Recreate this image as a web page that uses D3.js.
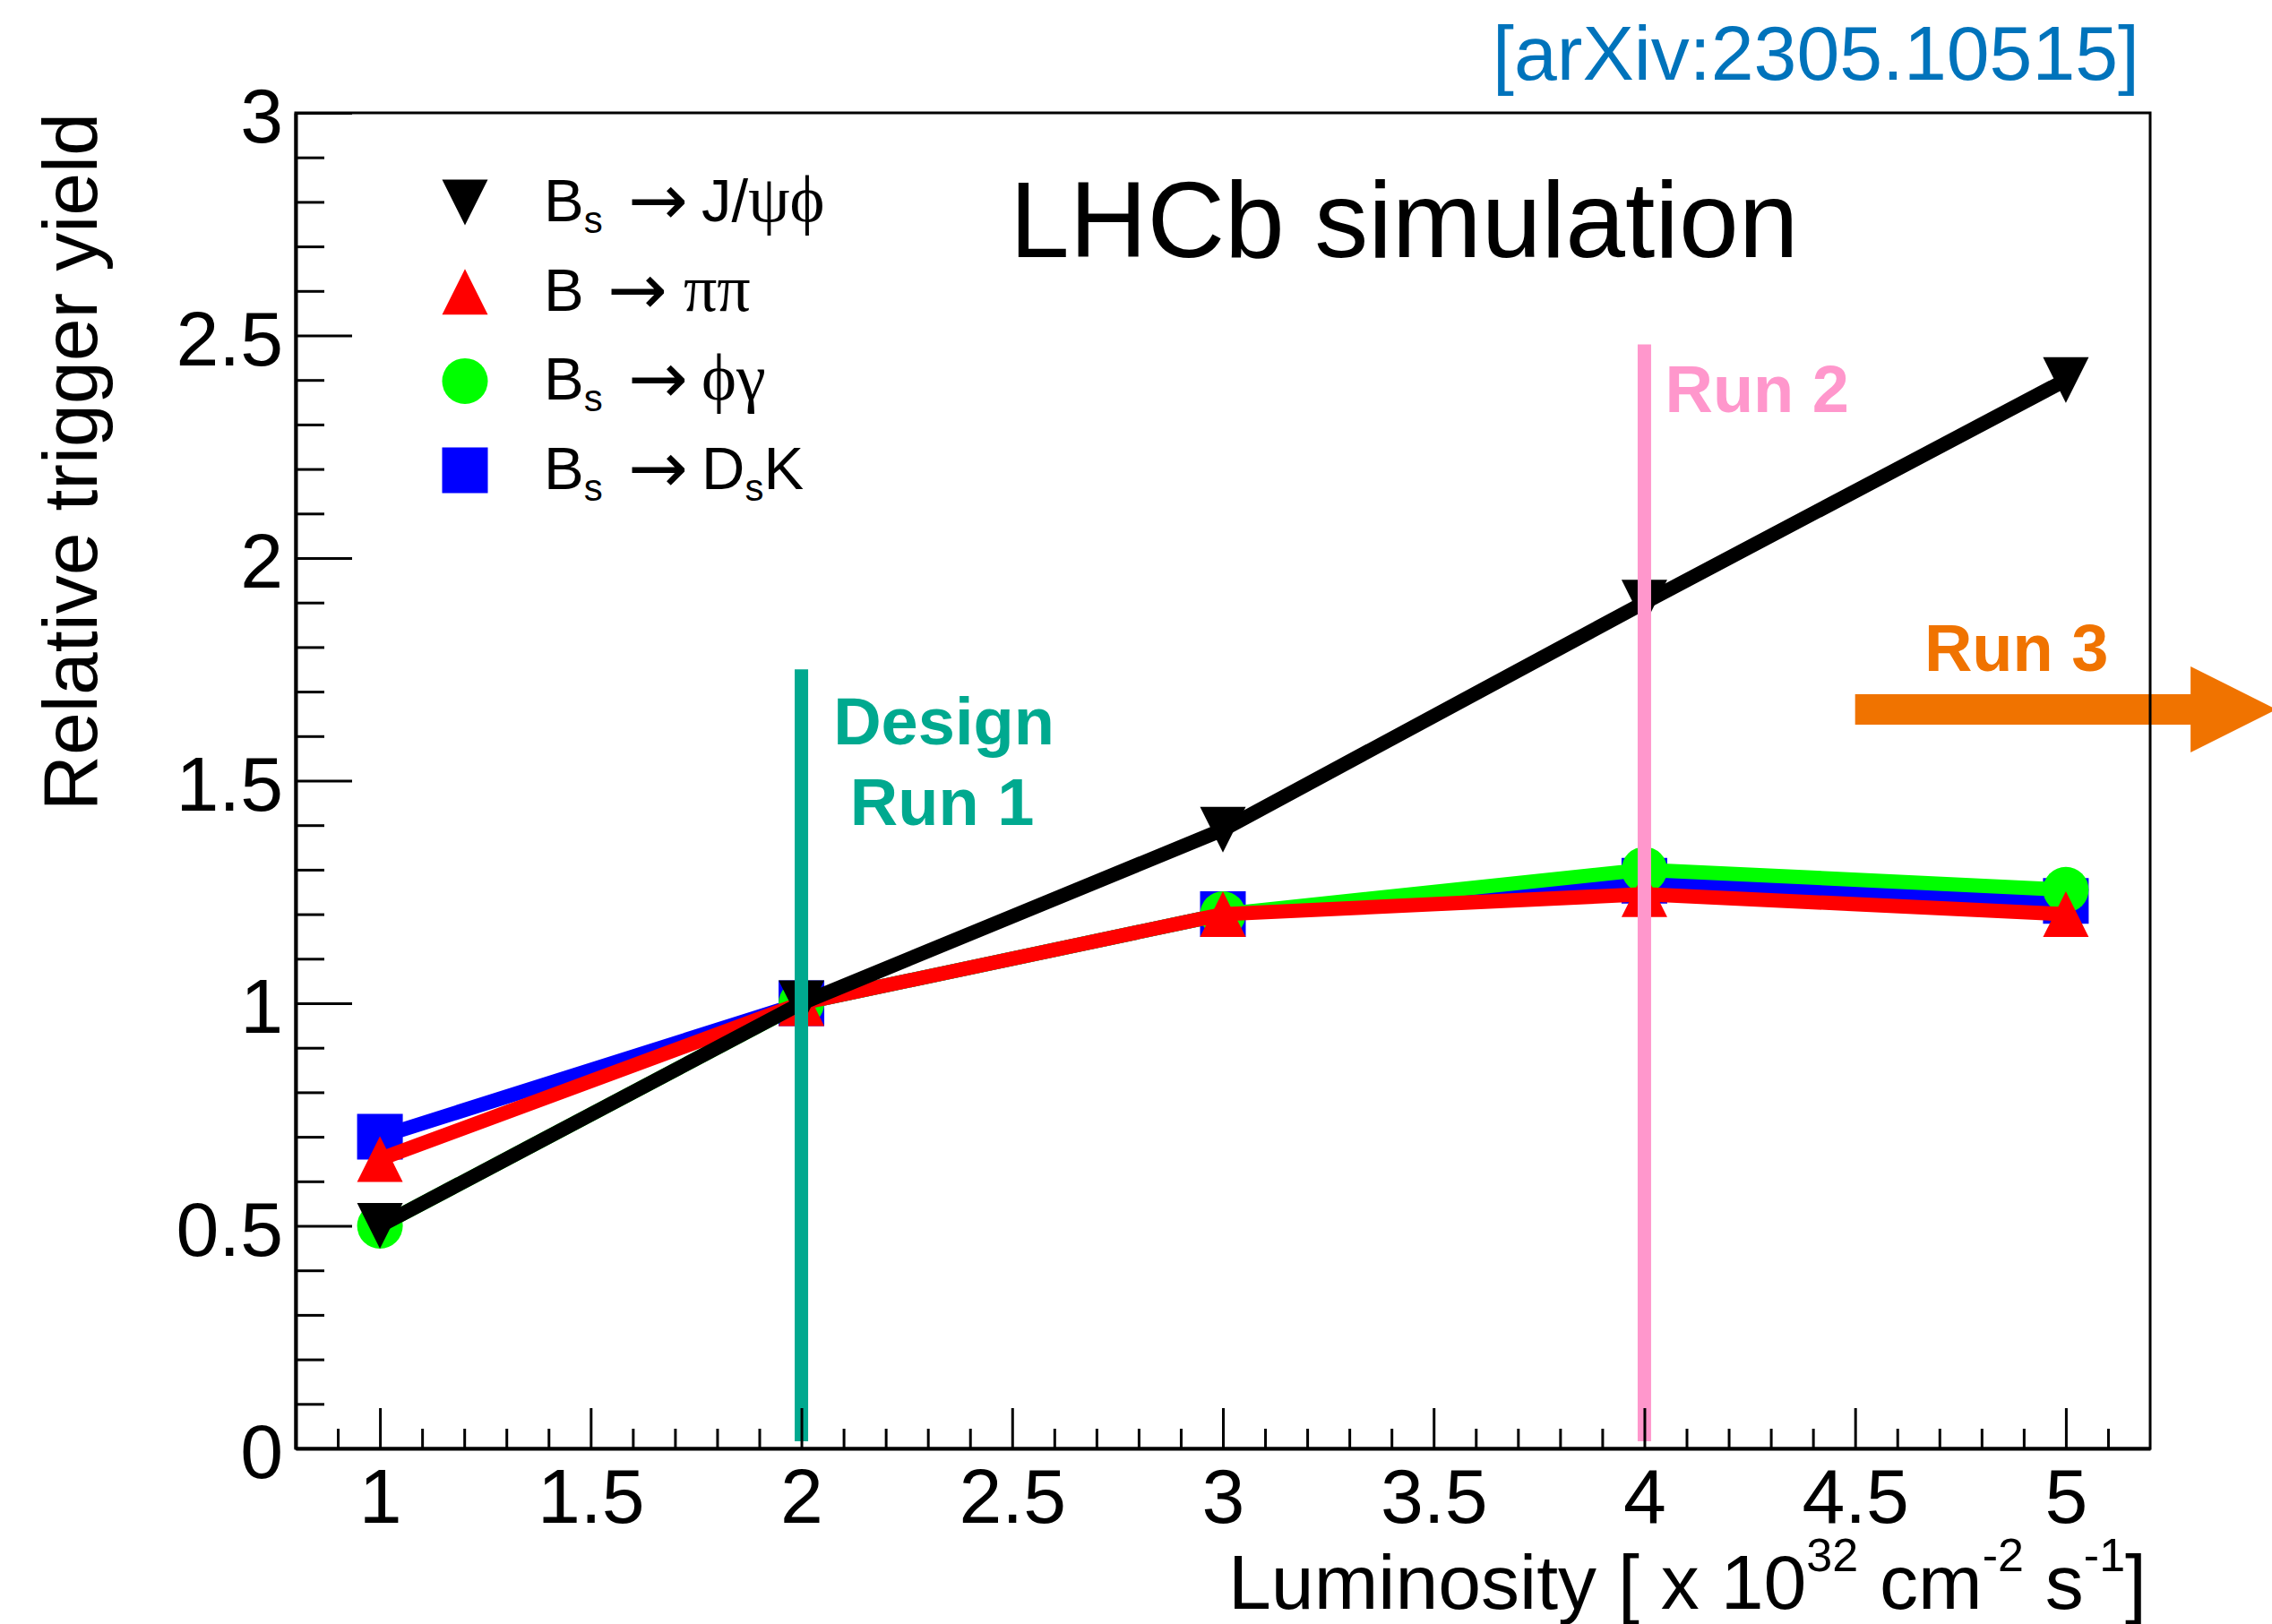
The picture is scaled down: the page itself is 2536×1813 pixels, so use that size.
<!DOCTYPE html>
<html>
<head>
<meta charset="utf-8">
<script src="https://cdn.jsdelivr.net/npm/d3@7"></script>
<style>
  body { margin: 0; background: #fff; }
  svg { display: block; font-family: "Liberation Sans", Arial, Helvetica, sans-serif; }
</style>
</head>
<body>
<svg id="chart" width="2536" height="1813"></svg>
<script>
// values
const luminosity = [1, 2, 3, 4, 5];
const jpsiPhi  = [0.5, 1.0, 1.39, 1.9, 2.4];
const pipi     = [0.65, 1.0, 1.2, 1.245, 1.2];
const phiGamma = [0.5, 1.0, 1.2, 1.3, 1.255];
const dsK      = [0.7, 1.0, 1.2, 1.275, 1.23];

const xTicks = [1, 1.5, 2, 2.5, 3, 3.5, 4, 4.5, 5];
const yTicks = [0, 0.5, 1, 1.5, 2, 2.5, 3];

// vertical run markers and the run 3 arrow (data units)
const runLines = [
  { x: 2, top: 1.75, label: ['Design', 'Run 1'], color: '#00a98f' },
  { x: 4, top: 2.48, label: ['Run 2'], color: '#ff97cc' }
];
const run3 = { from: 4.5, to: 5.5, y: 1.66, label: 'Run 3', color: '#f07300' };

// drawing order follows the original (blue under, black on top)
const series = [
  { id: 'dsK', values: dsK, color: '#0000ff', marker: 'square' },
  { id: 'phiGamma', values: phiGamma, color: '#00ff00', marker: 'circle' },
  { id: 'pipi', values: pipi, color: '#ff0000', marker: 'triangleUp' },
  { id: 'jpsiPhi', values: jpsiPhi, color: '#000000', marker: 'triangleDown' }
];

const legend = [
  { id: 'jpsiPhi', head: 'B', sub: 's', tail: [{ t: 'J/' }, { t: 'ψϕ', serif: true }] },
  { id: 'pipi', head: 'B', sub: null, tail: [{ t: 'ππ', serif: true }] },
  { id: 'phiGamma', head: 'B', sub: 's', tail: [{ t: 'ϕγ', serif: true }] },
  { id: 'dsK', head: 'B', sub: 's', tail: [{ t: 'D' }, { t: 's', sub: true }, { t: 'K' }] }
];

const svg = d3.select('#chart');
const frame = { left: 330, right: 2400, top: 126, bottom: 1617 };

const x = d3.scaleLinear().domain([0.8, 5.2]).range([frame.left, frame.right]);
const y = d3.scaleLinear().domain([0, 3]).range([frame.bottom, frame.top]);

const markerSize = 51;
function markerPath(type) {
  const h = markerSize / 2, s = markerSize;
  if (type === 'square') return `M${-h},${-h}h${s}v${s}h${-s}Z`;
  if (type === 'circle') return `M${-h},0a${h},${h} 0 1,0 ${s},0a${h},${h} 0 1,0 ${-s},0Z`;
  if (type === 'triangleUp') return `M0,${-h}L${h},${h}L${-h},${h}Z`;
  return `M0,${h}L${h},${-h}L${-h},${-h}Z`;
}
const colorOf = id => series.find(s => s.id === id).color;
const markerOf = id => series.find(s => s.id === id).marker;

// run 3 arrow sits outside the frame, under the frame line
const ay = y(run3.y), headLen = 96, headHalf = 48, shaftHalf = 17;
const ax0 = x(run3.from), ax1 = x(run3.to);
svg.append('path')
  .attr('d', `M${ax0},${ay - shaftHalf}H${ax1 - headLen}V${ay - headHalf}L${ax1},${ay}L${ax1 - headLen},${ay + headHalf}V${ay + shaftHalf}H${ax0}Z`)
  .attr('fill', run3.color);
svg.append('text')
  .attr('x', ax0 + 180)
  .attr('y', ay - 43)
  .attr('text-anchor', 'middle')
  .attr('font-size', 74)
  .attr('font-weight', 'bold')
  .attr('fill', run3.color)
  .text(run3.label);

// frame
svg.append('rect')
  .attr('x', frame.left).attr('y', frame.top)
  .attr('width', frame.right - frame.left)
  .attr('height', frame.bottom - frame.top)
  .attr('fill', 'none')
  .attr('stroke', '#000')
  .attr('stroke-width', 3);

// series
const line = d3.line()
  .x((d, i) => x(luminosity[i]))
  .y(d => y(d));

series.forEach(s => {
  const g = svg.append('g').attr('class', 'series ' + s.id);
  g.append('path')
    .attr('d', line(s.values))
    .attr('fill', 'none')
    .attr('stroke', s.color)
    .attr('stroke-width', 16)
    .attr('stroke-linejoin', 'miter');
  g.selectAll('path.marker')
    .data(s.values)
    .enter().append('path')
    .attr('class', 'marker')
    .attr('transform', (d, i) => `translate(${x(luminosity[i])},${y(d)})`)
    .attr('d', markerPath(s.marker))
    .attr('fill', s.color);
});

// run lines and labels
runLines.forEach(r => {
  const lx = x(r.x), top = y(r.top);
  svg.append('line')
    .attr('x1', lx).attr('x2', lx)
    .attr('y1', y(0.016)).attr('y2', top)
    .attr('stroke', r.color)
    .attr('stroke-width', 15);
  const t = svg.append('text')
    .attr('font-size', 74)
    .attr('font-weight', 'bold')
    .attr('fill', r.color);
  if (r.label.length === 2) {
    t.attr('text-anchor', 'middle');
    t.append('tspan').attr('x', lx + 159).attr('y', top + 84).text(r.label[0]);
    t.append('tspan').attr('x', lx + 157).attr('y', top + 174).text(r.label[1]);
  } else {
    t.attr('x', lx + 23).attr('y', top + 76).text(r.label[0]);
  }
});

// axes
const yAxis = svg.append('g')
  .attr('class', 'axis axis--y')
  .attr('transform', `translate(${frame.left},0)`)
  .call(d3.axisLeft(y).tickValues(yTicks).tickSize(-63).tickSizeOuter(0).tickPadding(14).tickFormat(d => d));
svg.append('g')
  .attr('class', 'axis axis--y-minor')
  .attr('transform', `translate(${frame.left},0)`)
  .call(d3.axisLeft(y).tickValues(d3.range(0, 31).filter(i => i % 5).map(i => i / 10)).tickSize(-32).tickSizeOuter(0).tickFormat(''))
  .select('.domain').remove();

svg.append('g')
  .attr('class', 'axis axis--x')
  .attr('transform', `translate(0,${frame.bottom})`)
  .call(d3.axisBottom(x).tickValues(xTicks).tickSize(-45).tickSizeOuter(0).tickPadding(22).tickFormat(d => d));
svg.append('g')
  .attr('class', 'axis axis--x-minor')
  .attr('transform', `translate(0,${frame.bottom})`)
  .call(d3.axisBottom(x).tickValues(d3.range(9, 52).filter(i => i % 5).map(i => i / 10)).tickSize(-22).tickSizeOuter(0).tickFormat(''))
  .select('.domain').remove();

svg.selectAll('.axis')
  .attr('font-family', null)
  .attr('font-size', 86);
svg.selectAll('.axis line').attr('stroke', '#000').attr('stroke-width', 3);
svg.selectAll('.axis .domain').attr('stroke', '#000').attr('stroke-width', 4);
svg.selectAll('.axis text').attr('fill', '#000');
yAxis.selectAll('text').attr('dy', '0.38em');

// axis titles
svg.append('text')
  .attr('transform', `translate(108,${frame.top}) rotate(-90)`)
  .attr('text-anchor', 'end')
  .attr('font-size', 86)
  .text('Relative trigger yield');

const xt = svg.append('text')
  .attr('x', frame.right - 4)
  .attr('y', 1796)
  .attr('text-anchor', 'end')
  .attr('font-size', 86);
xt.append('tspan').text('Luminosity [ x 10');
xt.append('tspan').attr('font-size', 52).attr('dy', -42).text('32');
xt.append('tspan').attr('dy', 42).text(' cm');
xt.append('tspan').attr('font-size', 52).attr('dy', -42).text('-2');
xt.append('tspan').attr('dy', 42).text(' s');
xt.append('tspan').attr('font-size', 52).attr('dy', -42).text('-1');
xt.append('tspan').attr('dy', 42).text(']');

// LHCb label and reference
svg.append('text')
  .attr('x', 1127).attr('y', 287)
  .attr('font-size', 120)
  .text('LHCb simulation');

svg.append('text')
  .attr('x', 2388).attr('y', 89)
  .attr('text-anchor', 'end')
  .attr('font-size', 86)
  .attr('fill', '#0073bb')
  .text('[arXiv:2305.10515]');

// legend
const leg = { markerX: 519, textX: 607, top: 226, step: 99.7, fontSize: 67 };
legend.forEach((e, i) => {
  const cy = leg.top + i * leg.step;
  const base = cy + 21;
  svg.append('path')
    .attr('transform', `translate(${leg.markerX},${cy})`)
    .attr('d', markerPath(markerOf(e.id)))
    .attr('fill', colorOf(e.id));

  const t = svg.append('text')
    .attr('x', leg.textX).attr('y', base)
    .attr('font-size', leg.fontSize);
  t.append('tspan').text(e.head);
  if (e.sub) t.append('tspan').attr('font-size', 42).attr('dy', 13).text(e.sub);
  t.append('tspan')
    .attr('x', e.sub ? leg.textX + 94 : leg.textX + 71)
    .attr('y', base + 4)
    .attr('font-family', '"DejaVu Sans", sans-serif')
    .attr('font-size', 80)
    .text('→');
  e.tail.forEach((p, k) => {
    const ts = t.append('tspan').text(p.t);
    if (k === 0) ts.attr('x', e.id === 'pipi' ? leg.textX + 156 : leg.textX + 176);
    if (p.serif) ts.attr('font-family', '"Liberation Serif", "DejaVu Serif", serif').attr('font-size', 74);
    if (p.sub) ts.attr('font-size', 42).attr('y', base + 13);
    else ts.attr('y', base);
  });
});
</script>
</body>
</html>
